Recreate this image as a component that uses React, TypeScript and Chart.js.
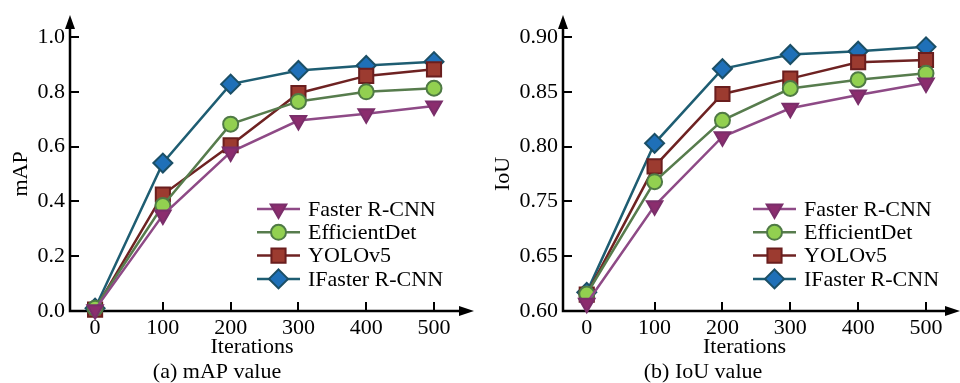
import React, { useEffect, useRef } from 'react';
import { Chart, registerables } from 'chart.js';

Chart.register(...registerables);

// ---------- data ----------
const iterations = [0, 100, 200, 300, 400, 500];
const seriesNames = ['Faster R-CNN', 'EfficientDet', 'YOLOv5', 'IFaster R-CNN'];

const mapFaster = [0.005, 0.35, 0.58, 0.695, 0.72, 0.748];
const mapEfficient = [0.01, 0.385, 0.682, 0.765, 0.8, 0.813];
const mapYolo = [0.005, 0.425, 0.605, 0.795, 0.858, 0.882];
const mapIFaster = [0.01, 0.54, 0.828, 0.878, 0.896, 0.91];

const iouFaster = [0.607, 0.742, 0.809, 0.835, 0.847, 0.858];
const iouEfficient = [0.6155, 0.768, 0.824, 0.853, 0.861, 0.867];
const iouYolo = [0.615, 0.782, 0.848, 0.862, 0.877, 0.879];
const iouIFaster = [0.617, 0.803, 0.871, 0.884, 0.887, 0.891];

const mapTickValues = [0, 0.2, 0.4, 0.6, 0.8, 1.0];
const iouTickLabels = [0.6, 0.65, 0.75, 0.8, 0.85, 0.9];

// ---------- styles ----------
const lineColors = ['#8E4A86', '#577C4D', '#6E2222', '#1E5D72'];
const fillColors = ['#8B2D6E', '#92D050', '#9C3B30', '#1F70B8'];
const edgeColors = ['#7A2E6A', '#4F7A45', '#6A1E1E', '#1B4F66'];
const pointStyles = ['triangle', 'circle', 'rect', 'rectRot'];
const pointRadii = [9, 7.5, 10, 9.5];
const pointRotations = [180, 0, 0, 0];

const FONT = "'Liberation Serif', 'Times New Roman', serif";
const FS = 22;

// IoU axis: tick labels are unevenly valued but evenly spaced
function iouToAxis(v: number): number {
  for (let i = 0; i < iouTickLabels.length - 1; i++) {
    if (v <= iouTickLabels[i + 1] || i === iouTickLabels.length - 2) {
      return i + (v - iouTickLabels[i]) / (iouTickLabels[i + 1] - iouTickLabels[i]);
    }
  }
  return 0;
}

function drawMarker(ctx: CanvasRenderingContext2D, i: number, x: number, y: number) {
  const r = pointRadii[i];
  ctx.save();
  ctx.fillStyle = fillColors[i];
  ctx.strokeStyle = edgeColors[i];
  ctx.lineWidth = 2;
  ctx.beginPath();
  const s = pointStyles[i];
  if (s === 'triangle') {
    ctx.moveTo(x, y + r);
    ctx.lineTo(x - r * 0.866, y - r / 2);
    ctx.lineTo(x + r * 0.866, y - r / 2);
    ctx.closePath();
  } else if (s === 'circle') {
    ctx.arc(x, y, r, 0, Math.PI * 2);
  } else if (s === 'rect') {
    const h = r * Math.SQRT1_2;
    ctx.rect(x - h, y - h, 2 * h, 2 * h);
  } else {
    ctx.moveTo(x, y - r);
    ctx.lineTo(x + r, y);
    ctx.lineTo(x, y + r);
    ctx.lineTo(x - r, y);
    ctx.closePath();
  }
  ctx.fill();
  ctx.stroke();
  ctx.restore();
}

const axesPlugin = {
  id: 'axesArrows',
  beforeDatasetsDraw(chart: any, _args: any, opts: any) {
    const ctx = chart.ctx as CanvasRenderingContext2D;
    const { left, bottom, top, right } = chart.chartArea;
    const xs = chart.scales.x;
    const ys = chart.scales.y;
    const xEnd = right + opts.xExtend;
    const yEnd = top - opts.yExtend;
    ctx.save();
    ctx.strokeStyle = '#000';
    ctx.fillStyle = '#000';
    ctx.lineWidth = 2.5;
    ctx.beginPath();
    ctx.moveTo(left, yEnd + 8);
    ctx.lineTo(left, bottom);
    ctx.lineTo(xEnd - 8, bottom);
    ctx.stroke();
    ctx.beginPath();
    ctx.moveTo(left, yEnd);
    ctx.lineTo(left - 5, yEnd + 14);
    ctx.lineTo(left + 5, yEnd + 14);
    ctx.closePath();
    ctx.fill();
    ctx.beginPath();
    ctx.moveTo(xEnd, bottom);
    ctx.lineTo(xEnd - 15, bottom - 5);
    ctx.lineTo(xEnd - 15, bottom + 5);
    ctx.closePath();
    ctx.fill();
    ctx.lineWidth = 2;
    ctx.beginPath();
    ys.ticks.forEach((t: any) => {
      const py = Math.round(ys.getPixelForValue(t.value));
      ctx.moveTo(left, py);
      ctx.lineTo(left + 9, py);
    });
    xs.ticks.forEach((t: any) => {
      const px = Math.round(xs.getPixelForValue(t.value));
      ctx.moveTo(px, bottom);
      ctx.lineTo(px, bottom - 9);
    });
    ctx.stroke();
    ctx.restore();
  },
};

const legendPlugin = {
  id: 'customLegend',
  afterDraw(chart: any, _args: any, opts: any) {
    const ctx = chart.ctx as CanvasRenderingContext2D;
    ctx.save();
    chart.data.datasets.forEach((ds: any, i: number) => {
      const y = opts.y + i * opts.rowGap;
      ctx.strokeStyle = lineColors[i];
      ctx.lineWidth = 2.5;
      ctx.beginPath();
      ctx.moveTo(opts.x, y);
      ctx.lineTo(opts.x + opts.lineLen, y);
      ctx.stroke();
      drawMarker(ctx, i, opts.x + opts.lineLen / 2, y);
      ctx.fillStyle = '#000';
      ctx.font = `${FS}px ${FONT}`;
      ctx.textAlign = 'left';
      ctx.textBaseline = 'middle';
      ctx.fillText(ds.label, opts.x + opts.lineLen + 8, y + 1);
    });
    ctx.restore();
  },
};

interface PanelProps {
  series: number[][];
  yTitle: string;
  caption: string;
  yMin: number;
  yMax: number;
  yTicks: number[];
  yTickLabel: (v: number) => string;
  yMap: (v: number) => number;
  yWidth: number;
  xMin: number;
  padRight: number;
  xExtend: number;
  legendX: number;
  titlePad: number;
}

function Panel(p: PanelProps) {
  const ref = useRef<HTMLCanvasElement | null>(null);
  useEffect(() => {
    if (!ref.current) return;
    const datasets = p.series.map((vals, i) => ({
      label: seriesNames[i],
      data: iterations.map((x, j) => ({ x, y: p.yMap(vals[j]) })),
      borderColor: lineColors[i],
      borderWidth: 2.5,
      backgroundColor: fillColors[i],
      pointBackgroundColor: fillColors[i],
      pointBorderColor: edgeColors[i],
      pointBorderWidth: 2,
      pointStyle: pointStyles[i],
      pointRadius: pointRadii[i],
      pointRotation: pointRotations[i],
      pointHoverRadius: pointRadii[i],
      tension: 0,
      clip: false as any,
    }));
    const chart = new Chart(ref.current, {
      type: 'line',
      data: { datasets },
      plugins: [axesPlugin, legendPlugin],
      options: {
        animation: false,
        responsive: false,
        events: [],
        layout: { padding: { left: 0, top: 37, right: p.padRight, bottom: 0 } },
        scales: {
          x: {
            type: 'linear',
            min: p.xMin,
            max: 500,
            afterBuildTicks: (s: any) => {
              s.ticks = iterations.map((v) => ({ value: v }));
            },
            afterFit: (s: any) => {
              s.height = 50;
            },
            grid: { display: false, drawTicks: false },
            border: { display: false },
            ticks: {
              font: { family: FONT, size: FS },
              color: '#000',
              padding: 4,
              maxRotation: 0,
              callback: (v: any) => String(v),
            },
            title: {
              display: true,
              text: 'Iterations',
              font: { family: FONT, size: FS, lineHeight: 1 },
              color: '#000',
              padding: { top: 0, bottom: 3 },
            },
          },
          y: {
            type: 'linear',
            min: p.yMin,
            max: p.yMax,
            afterBuildTicks: (s: any) => {
              s.ticks = p.yTicks.map((v) => ({ value: v }));
            },
            afterFit: (s: any) => {
              s.width = p.yWidth;
            },
            grid: { display: false, drawTicks: false },
            border: { display: false },
            ticks: {
              font: { family: FONT, size: FS },
              color: '#000',
              padding: 5,
              callback: (v: any) => p.yTickLabel(Number(v)),
            },
            title: {
              display: true,
              text: p.yTitle,
              font: { family: FONT, size: FS, lineHeight: 1 },
              color: '#000',
              padding: { top: p.titlePad, bottom: 0 },
            },
          },
        },
        plugins: {
          legend: { display: false },
          tooltip: { enabled: false },
          title: {
            display: true,
            position: 'bottom',
            text: p.caption,
            color: '#000',
            font: { family: FONT, size: FS, weight: 'normal', lineHeight: 1 },
            padding: { top: 0, bottom: 0 },
          },
          axesArrows: { xExtend: p.xExtend, yExtend: 22 },
          customLegend: { x: p.legendX, y: 209, rowGap: 23.3, lineLen: 43 },
        } as any,
      },
    });
    return () => chart.destroy();
  }, []);
  return <canvas ref={ref} width={480} height={383} style={{ width: 480, height: 383, display: 'block' }} />;
}

export default function App() {
  const iouTickIdx = iouTickLabels.map((_, i) => i);
  return (
    <div style={{ position: 'absolute', left: 0, top: 0, width: 960, height: 383, display: 'flex', background: '#fff' }}>
      <Panel
        series={[mapFaster, mapEfficient, mapYolo, mapIFaster]}
        yTitle="mAP"
        caption="(a) mAP value"
        yMin={0}
        yMax={1.0}
        yTicks={mapTickValues}
        yTickLabel={(v) => v.toFixed(1)}
        yMap={(v) => v}
        yWidth={70}
        xMin={-37}
        padRight={46}
        xExtend={40}
        legendX={257}
        titlePad={10}
      />
      <Panel
        series={[iouFaster, iouEfficient, iouYolo, iouIFaster]}
        yTitle="IoU"
        caption="(b) IoU value"
        yMin={0}
        yMax={5}
        yTicks={iouTickIdx}
        yTickLabel={(v) => iouTickLabels[Math.round(v)].toFixed(2)}
        yMap={iouToAxis}
        yWidth={83}
        xMin={-35}
        padRight={34}
        xExtend={34}
        legendX={273}
        titlePad={12}
      />
    </div>
  );
}
